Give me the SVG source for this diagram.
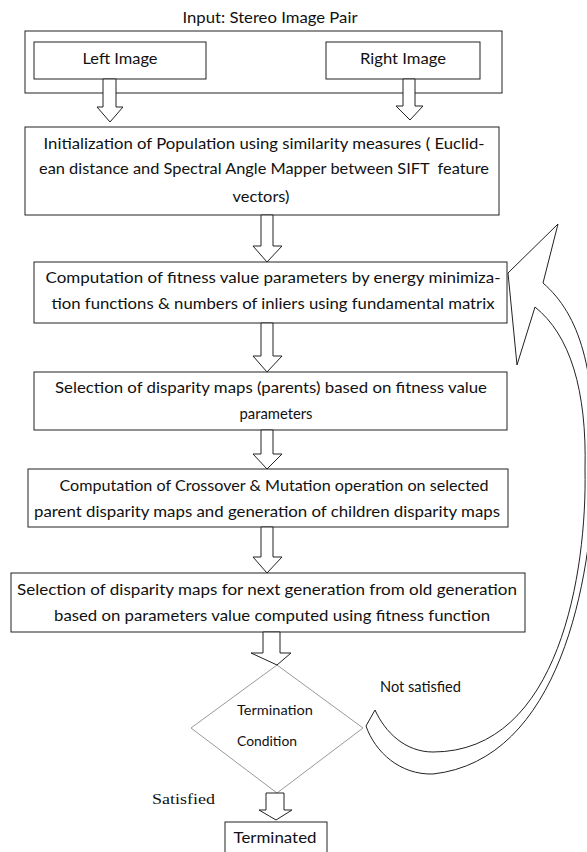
<svg xmlns="http://www.w3.org/2000/svg" width="587" height="852" viewBox="0 0 587 852">
<style>
.box{fill:#fff;stroke:#222;stroke-width:1}
.arr{fill:#fff;stroke:#222;stroke-width:1;stroke-linejoin:miter}
.t{font-family:Lato,"Liberation Sans",sans-serif;font-size:15px;fill:#111;text-anchor:middle}
.s{font-family:Lato,"Liberation Sans",sans-serif;font-size:13px;fill:#111}
.tm{font-family:"Liberation Serif",serif;font-size:15px;fill:#111}
</style>
<rect width="587" height="852" fill="#fff"/>
<text class="t" x="270" y="23" textLength="175" lengthAdjust="spacingAndGlyphs">Input: Stereo Image Pair</text>
<g id="input">
<rect class="box" x="25" y="31" width="477" height="62"/>
</g>
<g id="left">
<rect class="box" x="34" y="42" width="172" height="37"/>
<text class="t" x="120" y="64" textLength="75" lengthAdjust="spacingAndGlyphs">Left Image</text>
</g>
<g id="right">
<rect class="box" x="326" y="42" width="154" height="37"/>
<text class="t" x="403" y="64" textLength="86" lengthAdjust="spacingAndGlyphs">Right Image</text>
</g>
<g id="init">
<rect class="box" x="25" y="127" width="474" height="88"/>
<text class="t" x="264" y="149" textLength="441" lengthAdjust="spacingAndGlyphs">Initialization of Population using similarity measures ( Euclid-</text>
<text class="t" x="264" y="174" textLength="450" lengthAdjust="spacingAndGlyphs" xml:space="preserve">ean distance and Spectral Angle Mapper between SIFT  feature</text>
<text class="t" x="261" y="202" textLength="57" lengthAdjust="spacingAndGlyphs">vectors)</text>
</g>
<g id="fitness">
<rect class="box" x="34" y="262" width="473" height="61"/>
<text class="t" x="273" y="283" textLength="455" lengthAdjust="spacingAndGlyphs">Computation of fitness value parameters by energy minimiza-</text>
<text class="t" x="273" y="309" textLength="443" lengthAdjust="spacingAndGlyphs">tion functions &amp; numbers of inliers using fundamental matrix</text>
</g>
<g id="selparents">
<rect class="box" x="34" y="372" width="473" height="58"/>
<text class="t" x="271" y="393" textLength="432" lengthAdjust="spacingAndGlyphs">Selection of disparity maps (parents) based on fitness value</text>
<text class="t" x="276" y="419" textLength="73" lengthAdjust="spacingAndGlyphs">parameters</text>
</g>
<g id="crossover">
<rect class="box" x="28" y="469" width="480" height="58"/>
<text class="t" x="274" y="491" textLength="429" lengthAdjust="spacingAndGlyphs">Computation of Crossover &amp; Mutation operation on selected</text>
<text class="t" x="267" y="517" textLength="466" lengthAdjust="spacingAndGlyphs">parent disparity maps and generation of children disparity maps</text>
</g>
<g id="nextgen">
<rect class="box" x="11" y="573" width="514" height="59"/>
<text class="t" x="267" y="595" textLength="500" lengthAdjust="spacingAndGlyphs">Selection of disparity maps for next generation from old generation</text>
<text class="t" x="272" y="621" textLength="436" lengthAdjust="spacingAndGlyphs">based on parameters value computed using fitness function</text>
</g>
<g id="condition">
<polygon points="277,665 363,728 277,793 191,728" fill="#fff" stroke="#999" stroke-width="1"/>
<text class="s" x="237" y="715" textLength="76" lengthAdjust="spacingAndGlyphs">Termination</text>
<text class="s" x="237" y="746" textLength="60" lengthAdjust="spacingAndGlyphs">Condition</text>
</g>
<g id="terminated">
<rect class="box" x="225" y="822" width="102" height="40"/>
<text class="t" x="275" y="843" textLength="83" lengthAdjust="spacingAndGlyphs">Terminated</text>
</g>
<text class="t" x="380" y="692" style="text-anchor:start" textLength="81" lengthAdjust="spacingAndGlyphs">Not satisfied</text>
<text class="tm" x="152" y="804" textLength="63" lengthAdjust="spacingAndGlyphs">Satisfied</text>
<g id="connectors">
<polygon class="arr" points="103,79 116,79 116,107 123,107 110,122 97,107 103,107"/>
<polygon class="arr" points="403,79 415,79 415,106 423,106 410,120 396,106 403,106"/>
<polygon class="arr" points="261,215 273,215 273,246 282,246 267,262 253,246 261,246"/>
<polygon class="arr" points="261,323 273,323 273,356 282,356 267,372 253,356 261,356"/>
<polygon class="arr" points="261,430 273,430 273,454 282,454 267,469 253,454 261,454"/>
<polygon class="arr" points="261,527 273,527 273,557 282,557 267,573 253,557 261,557"/>
<polygon class="arr" points="263,632 280,632 280,653 291,653 277,665 251,653 263,653"/>
<polygon class="arr" points="266,793 284,793 284,810 292,810 276,820 259,810 266,810"/>
<path class="arr" d="M558,224 L508,273 L517,365 L535,307 C570,335 587,390 585,470 C587,570 560,752 433,752 C405,752 385,732 375,710 L366,726 C375,752 400,775 433,774 C560,760 592,580 594,470 C596,370 580,315 543,283 Z"/>
</g>
</svg>
